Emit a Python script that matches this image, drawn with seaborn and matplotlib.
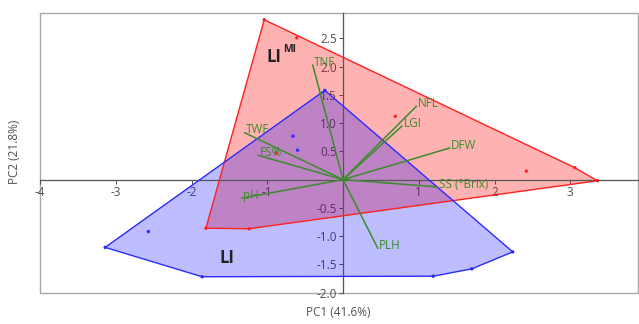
import numpy as np
import pandas as pd
import matplotlib
matplotlib.use("Agg")
import matplotlib.pyplot as plt
from matplotlib.patches import Rectangle
import seaborn as sns

# PCA scores per management group
li_mi_pc1 = [-1.04, -0.61, 3.06, 3.36, 2.42, 0.69, -0.88, -1.24, -1.81]
li_mi_pc2 = [2.83, 2.51, 0.21, -0.02, 0.15, 1.12, 0.47, -0.87, -0.86]
li_pc1 = [-0.24, -3.14, -1.86, 1.19, 1.70, 2.24, -2.57, -0.66, -0.60]
li_pc2 = [1.58, -1.20, -1.72, -1.71, -1.58, -1.28, -0.92, 0.77, 0.52]

# Variable loadings
var_names = ["TNF", "NFL", "LGI", "DFW", "SS (°Brix)", "PLH", "pH", "TWF", "FS%"]
load_pc1 = [-0.40, 0.97, 0.78, 1.41, 1.25, 0.46, -1.34, -1.30, -1.12]
load_pc2 = [2.03, 1.30, 0.95, 0.56, -0.13, -1.22, -0.33, 0.83, 0.43]

x_ticks = [-4, -3, -2, -1, 1, 2, 3]
y_ticks = [-2.0, -1.5, -1.0, -0.5, 0.5, 1.0, 1.5, 2.0, 2.5]

sns.set_theme(style="white")
plt.rcParams["font.family"] = ["Open Sans", "DejaVu Sans"]
plt.rcParams["axes.unicode_minus"] = False

scores = pd.DataFrame({
    "PC1": li_mi_pc1 + li_pc1,
    "PC2": li_mi_pc2 + li_pc2,
    "group": ["LI MI"] * len(li_mi_pc1) + ["LI"] * len(li_pc1),
})


def convex_hull(xs, ys):
    pts = sorted(set(zip(xs, ys)))

    def cross(o, a, b):
        return (a[0] - o[0]) * (b[1] - o[1]) - (a[1] - o[1]) * (b[0] - o[0])

    lower, upper = [], []
    for p in pts:
        while len(lower) >= 2 and cross(lower[-2], lower[-1], p) <= 0:
            lower.pop()
        lower.append(p)
    for p in reversed(pts):
        while len(upper) >= 2 and cross(upper[-2], upper[-1], p) <= 0:
            upper.pop()
        upper.append(p)
    return np.array(lower[:-1] + upper[:-1])


fig = plt.figure(figsize=(6.39, 3.24), dpi=100)
ax = fig.add_axes([0.0626, 0.097, 0.9354, 0.863])

red = "#ff2020"
blue = "#2b2bff"
green = "#3c8c2c"

# group hulls: translucent fills first, outlines on top
for xs, ys, fc, alpha, ec, z in [(li_mi_pc1, li_mi_pc2, "#ff0000", 0.30, red, 1),
                                 (li_pc1, li_pc2, "#0000ff", 0.26, blue, 2)]:
    hull = convex_hull(xs, ys)
    ax.fill(hull[:, 0], hull[:, 1], facecolor=fc, alpha=alpha, edgecolor="none", zorder=z)
    ax.fill(hull[:, 0], hull[:, 1], facecolor="none", edgecolor=ec, linewidth=1.0, zorder=z + 2)

sns.scatterplot(data=scores, x="PC1", y="PC2", hue="group",
                palette={"LI MI": red, "LI": blue}, s=6, linewidth=0,
                legend=False, ax=ax, zorder=5)

for name, lx, ly in zip(var_names, load_pc1, load_pc2):
    ax.plot([0, lx], [0, ly], color=green, linewidth=1.1, zorder=6)
    ax.annotate(name, (lx, ly), xytext=(1, 2), textcoords="offset points",
                ha="left", va="center", color=green, fontsize=8.5, zorder=7)

# group labels
ax.text(-1.01, 2.17, "LI", fontsize=12, fontweight="bold", color="#222222",
        ha="left", va="center", zorder=8)
ax.text(-0.79, 2.30, "MI", fontsize=7.5, fontweight="bold", color="#222222",
        ha="left", va="center", zorder=8)
ax.text(-1.63, -1.39, "LI", fontsize=12, fontweight="bold", color="#222222",
        ha="left", va="center", zorder=8)

ax.set_xlim(-4.0, 3.89)
ax.set_ylim(-2.0, 2.95)

# axes crossing at the origin
for side in ["top", "right"]:
    ax.spines[side].set_visible(False)
ax.spines["left"].set_position(("data", 0))
ax.spines["bottom"].set_position(("data", 0))
for side in ["left", "bottom"]:
    ax.spines[side].set_color("#555555")
    ax.spines[side].set_linewidth(0.9)
ax.add_patch(Rectangle((0, 0), 1, 1, transform=ax.transAxes, fill=False,
                       edgecolor="#a8a8a8", linewidth=1.0, clip_on=False, zorder=0))

ax.set_xticks(x_ticks)
ax.set_xticklabels([str(t) for t in x_ticks])
ax.set_yticks(y_ticks)
ax.set_yticklabels([f"{t:.1f}" for t in y_ticks])
ax.tick_params(axis="both", labelsize=8.5, colors="#505050", length=3, width=0.7,
               direction="out", pad=1.5)
ax.tick_params(axis="x", bottom=True)
ax.tick_params(axis="y", left=True)

ax.set_xlabel("")
ax.set_ylabel("")
fig.text(0.53, 0.035, "PC1 (41.6%)", ha="center", va="center", fontsize=8.5, color="#505050")
fig.text(0.022, 0.53, "PC2 (21.8%)", ha="center", va="center", rotation=90,
         fontsize=8.5, color="#505050")

fig.savefig("out.png", dpi=100)
